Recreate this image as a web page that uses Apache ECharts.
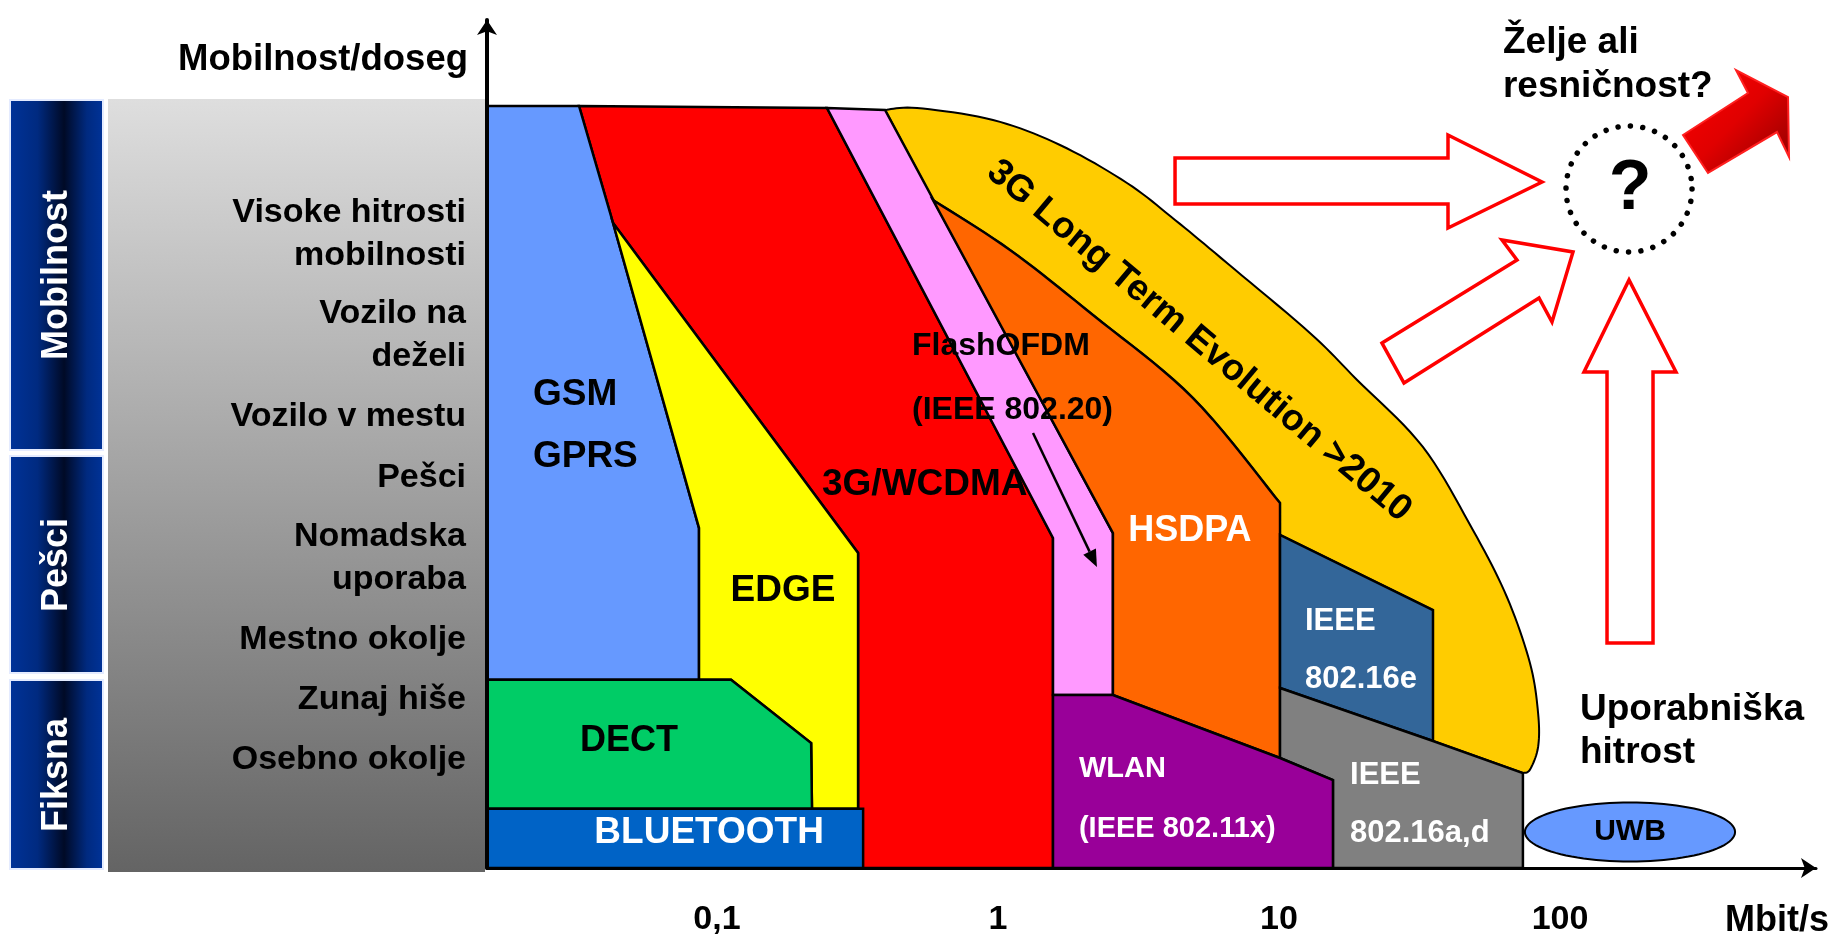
<!DOCTYPE html>
<html>
<head>
<meta charset="utf-8">
<script src="https://cdn.jsdelivr.net/npm/echarts@6/dist/echarts.min.js"></script>
<style>html,body{margin:0;padding:0;background:#fff}#c{width:1833px;height:938px}</style>
</head>
<body>
<div id="c"></div>
<script>
// x: log10 of user data rate (Mbit/s); y: mobility / range index (0 = fixed ... 100 = top of axis)
const xTickValues = [-1, 0, 1, 2];
const xTickLabels = ['0,1', '1', '10', '100'];
const yLevelValues = [74.71, 62.79, 53.18, 45.99, 36.56, 26.89, 19.81, 12.74];
const yLevelLabels = ['Visoke hitrosti\nmobilnosti', 'Vozilo na\ndeželi', 'Vozilo v mestu', 'Pešci',
  'Nomadska\nuporaba', 'Mestno okolje', 'Zunaj hiše', 'Osebno okolje'];
const mobilityGroups = ['Mobilnost', 'Pešci', 'Fiksna'];

// technology regions: [log10 Mbit/s, mobility index]
const gsm = [[-1.818, 89.86], [-1.491, 89.86], [-1.370, 76.06], [-1.064, 40.09], [-1.064, 22.2], [-1.818, 22.2]];
const edge = [[-1.370, 76.06], [-0.498, 37.15], [-0.498, 7.0], [-0.662, 7.0], [-0.665, 14.74], [-0.950, 22.2], [-1.064, 22.2], [-1.064, 40.09]];
const dect = [[-1.818, 22.2], [-0.950, 22.2], [-0.665, 14.74], [-0.662, 7.0], [-1.818, 7.0]];
const bluetooth = [[-1.818, 7.0], [-0.480, 7.0], [-0.480, 0], [-1.818, 0]];
const wcdma = [[-1.491, 89.86], [-0.6085, 89.62], [0.1957, 38.92], [0.1957, 0], [-0.498, 0], [-0.498, 37.15], [-1.370, 76.06]];
const flashOfdm = [[-0.6085, 89.62], [-0.402, 89.39], [0.409, 39.50], [0.409, 20.40], [0.1957, 20.40], [0.1957, 38.92]];
const hsdpaTop = [[-0.2313, 78.77], [0.0427, 72.88], [0.338, 65.21], [0.694, 55.42], [1.0036, 43.04]];
const hsdpaRest = [[1.0036, 12.97], [0.409, 20.40], [0.409, 39.50]];
const wlan = [[0.1957, 20.40], [0.409, 20.40], [1.0036, 12.97], [1.192, 10.38], [1.192, 0], [0.1957, 0]];
const ieee80216e = [[1.0036, 39.27], [1.548, 30.42], [1.548, 14.98], [1.0036, 21.23]];
const ieee80216ad = [[1.0036, 21.23], [1.548, 14.98], [1.868, 11.20], [1.868, 0], [1.192, 0], [1.192, 10.38], [1.0036, 12.97]];
const lteOuter = [[-0.402, 89.39], [-0.288, 89.62], [-0.0178, 88.21], [0.2206, 85.26], [0.459, 80.78], [0.630, 76.42],
  [0.815, 71.34], [1.110, 63.09], [1.278, 57.55], [1.512, 49.65], [1.690, 39.86], [1.811, 31.96], [1.893, 24.17],
  [1.922, 18.28], [1.922, 14.27], [1.893, 11.6], [1.868, 11.20]];
const lteInner = [[1.548, 14.98], [1.548, 30.42], [1.0036, 39.27]];
const uwb = [2.249, 4.245, 0.374, 3.48]; // centre x, centre y, half-width (decades), half-height

// annotation arrows
const arrowRight = [[0.630, 83.73], [1.6014, 83.73], [1.6014, 86.44], [1.936, 80.90], [1.6014, 75.47], [1.6014, 78.30], [0.630, 78.30]];
const arrowDiagonal = [[1.3665, 61.91], [1.847, 71.70], [1.7936, 74.06], [2.0463, 72.64], [1.9715, 64.39], [1.9253, 67.22], [1.4448, 57.19]];
const arrowUp = [[2.1673, 26.53], [2.1673, 58.49], [2.0854, 58.49], [2.2456, 69.34], [2.4128, 58.49], [2.331, 58.49], [2.331, 26.53]];
const arrowOut = [[2.4377, 86.44], [2.669, 91.39], [2.6263, 94.10], [2.8114, 90.92], [2.815, 83.84], [2.7722, 86.79], [2.5267, 81.96]];
const unknownCircle = [2.2456, 80.07, 7.43];
const flashArrow = [[0.1246, 51.30], [0.352, 35.50]];

const FONT = '"Liberation Sans", Arial, Helvetica, sans-serif';

// each zone: list of outline parts; parts flagged "curve" are drawn as smooth curves through their points
const zones = [
  { name: '3G Long Term Evolution', color: '#ffcc00', lw: 2,
    parts: [{ pts: lteOuter, curve: true }, { pts: lteInner }, { pts: hsdpaTop.slice().reverse(), curve: true }] },
  { name: '3G/WCDMA', parts: [{ pts: wcdma }], color: '#ff0000' },
  { name: 'FlashOFDM', parts: [{ pts: flashOfdm }], color: '#ff99ff' },
  { name: 'HSDPA', parts: [{ pts: hsdpaTop, curve: true }, { pts: hsdpaRest }], color: '#ff6600' },
  { name: 'IEEE 802.16e', parts: [{ pts: ieee80216e }], color: '#336699' },
  { name: 'IEEE 802.16a,d', parts: [{ pts: ieee80216ad }], color: '#808080' },
  { name: 'WLAN', parts: [{ pts: wlan }], color: '#990099' },
  { name: 'GSM', parts: [{ pts: gsm }], color: '#6699ff' },
  { name: 'EDGE', parts: [{ pts: edge }], color: '#ffff00' },
  { name: 'DECT', parts: [{ pts: dect }], color: '#00cc66' },
  { name: 'BLUETOOTH', parts: [{ pts: bluetooth }], color: '#0063c6' }
];

const textItems = [
  { text: 'GSM', at: [-1.655, 55.78], size: 37, align: 'left' },
  { text: 'GPRS', at: [-1.655, 48.47], size: 37, align: 'left' },
  { text: 'EDGE', at: [-0.765, 32.72], size: 37 },
  { text: 'DECT', at: [-1.313, 14.92], size: 36 },
  { text: 'BLUETOOTH', at: [-1.028, 4.13], size: 37, color: '#fff' },
  { text: '3G/WCDMA', at: [-0.6263, 45.17], size: 37, align: 'left' },
  { text: 'FlashOFDM', at: [-0.306, 61.5], size: 32, align: 'left' },
  { text: '(IEEE 802.20)', at: [-0.306, 54.0], size: 32, align: 'left' },
  { text: 'HSDPA', at: [0.683, 39.74], size: 36, color: '#fff' },
  { text: 'IEEE', at: [1.0925, 29.13], size: 31, color: '#fff', align: 'left' },
  { text: '802.16e', at: [1.0925, 22.29], size: 31, color: '#fff', align: 'left' },
  { text: 'IEEE', at: [1.2527, 10.97], size: 31, color: '#fff', align: 'left' },
  { text: '802.16a,d', at: [1.2527, 4.13], size: 31, color: '#fff', align: 'left' },
  { text: 'WLAN', at: [0.288, 11.67], size: 29, color: '#fff', align: 'left' },
  { text: '(IEEE 802.11x)', at: [0.288, 4.60], size: 29, color: '#fff', align: 'left' },
  { text: 'UWB', at: [2.249, 4.245], size: 30 },
  { text: '3G Long Term Evolution >2010', at: [0.7153, 62.15], size: 37, rotate: -40 },
  { text: 'Želje ali', at: [1.797, 97.29], size: 37, align: 'left' },
  { text: 'resničnost?', at: [1.797, 92.10], size: 37, align: 'left' },
  { text: 'Uporabniška', at: [2.071, 18.63], size: 37, align: 'left' },
  { text: 'hitrost', at: [2.071, 13.56], size: 37, align: 'left' },
  { text: '?', at: [2.2492, 79.95], size: 70 }
];

const blueGrad = {
  type: 'linear', x: 0, y: 0, x2: 1, y2: 0,
  colorStops: [
    { offset: 0, color: '#003399' }, { offset: 0.3, color: '#002a80' },
    { offset: 0.58, color: '#000a26' }, { offset: 0.82, color: '#002a80' }, { offset: 1, color: '#003399' }
  ]
};
const groupBoxes = [[100, 350, 275], [456, 217, 565], [680, 189, 775]];

const graphicEls = [
  { type: 'rect', z: 1, shape: { x: 108, y: 99, width: 377, height: 773 },
    style: { fill: { type: 'linear', x: 0, y: 0, x2: 0, y2: 1, colorStops: [{ offset: 0, color: '#dedede' }, { offset: 1, color: '#646464' }] } } }
];
mobilityGroups.forEach((g, i) => {
  const b = groupBoxes[i];
  graphicEls.push({ type: 'rect', z: 1, shape: { x: 10, y: b[0], width: 93, height: b[1] },
    style: { fill: blueGrad, stroke: '#e4ebff', lineWidth: 2 } });
  graphicEls.push({ type: 'text', z: 2, x: 57, y: b[2], rotation: Math.PI / 2,
    style: { text: g, fill: '#fff', fontSize: 36, fontWeight: 'bold', fontFamily: FONT, align: 'center', verticalAlign: 'middle' } });
});

function toPx(api, pts) { return pts.map(p => api.coord(p)); }
// Catmull-Rom smoothing of an outline (pixel space) through the given points
function smoothPx(px, seg) {
  const out = [];
  for (let i = 0; i < px.length - 1; i++) {
    const p0 = px[i - 1] || px[i], p1 = px[i], p2 = px[i + 1], p3 = px[i + 2] || px[i + 1];
    for (let s = 0; s < seg; s++) {
      const t = s / seg, t2 = t * t, t3 = t2 * t;
      out.push([0, 1].map(k => 0.5 * ((2 * p1[k]) + (-p0[k] + p2[k]) * t +
        (2 * p0[k] - 5 * p1[k] + 4 * p2[k] - p3[k]) * t2 + (-p0[k] + 3 * p1[k] - 3 * p2[k] + p3[k]) * t3)));
    }
  }
  out.push(px[px.length - 1]);
  return out;
}

const chart = echarts.init(document.getElementById('c'), null, { renderer: 'canvas' });
chart.setOption({
  animation: false,
  backgroundColor: '#fff',
  grid: { left: 487, right: 17, top: 20, bottom: 70, containLabel: false, outerBoundsMode: 'none' },
  graphic: graphicEls,
  xAxis: {
    type: 'value', min: -1.8185, max: 2.911, z: 10,
    name: 'Mbit/s', nameLocation: 'end', nameGap: -91,
    nameTextStyle: { align: 'left', verticalAlign: 'top', padding: [35, 0, 0, 0], fontSize: 36, fontWeight: 'bold', color: '#000', fontFamily: FONT },
    axisLine: { show: true, onZero: false, symbol: ['none', 'arrow'], symbolSize: [15, 15], lineStyle: { color: '#000', width: 3 } },
    axisTick: { show: false }, splitLine: { show: false },
    axisLabel: {
      customValues: xTickValues, margin: 35, fontSize: 34, fontWeight: 'bold', color: '#000', fontFamily: FONT,
      formatter: v => xTickLabels[xTickValues.indexOf(v)]
    }
  },
  yAxis: {
    type: 'value', min: 0, max: 100, z: 10,
    name: 'Mobilnost/doseg', nameLocation: 'end', nameGap: -40,
    nameTextStyle: { align: 'right', verticalAlign: 'middle', padding: [0, 19, 0, 0], fontSize: 36.5, fontWeight: 'bold', color: '#000', fontFamily: FONT },
    axisLine: { show: true, onZero: false, symbol: ['none', 'arrow'], symbolSize: [15, 15], lineStyle: { color: '#000', width: 4 } },
    axisTick: { show: false }, splitLine: { show: false },
    axisLabel: {
      customValues: yLevelValues, margin: 21, fontSize: 34, lineHeight: 43, fontWeight: 'bold', color: '#000', fontFamily: FONT,
      align: 'right',
      formatter: v => yLevelLabels[yLevelValues.indexOf(v)]
    }
  },
  series: [
    {
      type: 'custom', name: 'zones', coordinateSystem: 'cartesian2d', silent: true, z: 2,
      data: zones.map(zn => zn.parts[0].pts[0]),
      renderItem: (params, api) => {
        const zn = zones[params.dataIndex];
        let points = [];
        zn.parts.forEach(part => {
          const px = toPx(api, part.pts);
          points = points.concat(part.curve ? smoothPx(px, 10) : px);
        });
        return { type: 'polygon', shape: { points: points },
          style: { fill: zn.color, stroke: '#000', lineWidth: zn.lw || 2.5, lineJoin: 'miter' } };
      }
    },
    {
      type: 'custom', name: 'UWB', coordinateSystem: 'cartesian2d', silent: true, z: 2,
      data: [[uwb[0], uwb[1]]],
      renderItem: (params, api) => {
        const c = api.coord([uwb[0], uwb[1]]);
        const rx = api.size([uwb[2], 0])[0], ry = api.size([0, uwb[3]])[1];
        const pts = [];
        for (let k = 0; k < 96; k++) { const a = k / 96 * Math.PI * 2; pts.push([c[0] + rx * Math.cos(a), c[1] + ry * Math.sin(a)]); }
        return { type: 'polygon', shape: { points: pts }, style: { fill: '#6699ff', stroke: '#000', lineWidth: 2 } };
      }
    },
    {
      type: 'custom', name: 'annotations', coordinateSystem: 'cartesian2d', silent: true, z: 3,
      data: [[0, 0]],
      renderItem: (params, api) => {
        const children = [];
        [arrowRight, arrowDiagonal, arrowUp].forEach(a => children.push({ type: 'polygon', shape: { points: toPx(api, a) },
          style: { fill: '#fff', stroke: '#ff0000', lineWidth: 3.5, lineJoin: 'miter' } }));
        children.push({ type: 'polygon', shape: { points: toPx(api, arrowOut) },
          style: { fill: { type: 'linear', x: 0, y: 0, x2: 1, y2: 1, colorStops: [{ offset: 0, color: '#ff0000' }, { offset: 0.5, color: '#e00000' }, { offset: 1, color: '#8a0000' }] },
            stroke: '#ff2020', lineWidth: 2 } });
        const cc = api.coord([unknownCircle[0], unknownCircle[1]]);
        const r = api.size([0, unknownCircle[2]])[1];
        children.push({ type: 'circle', shape: { cx: cc[0], cy: cc[1], r: r },
          style: { fill: 'none', stroke: '#000', lineWidth: 5.5, lineDash: [0.01, 12.4], lineCap: 'round' } });
        const p0 = api.coord(flashArrow[0]), p1 = api.coord(flashArrow[1]);
        const dx = p1[0] - p0[0], dy = p1[1] - p0[1], L = Math.hypot(dx, dy);
        const ux = dx / L, uy = dy / L, hl = 17, hw = 7;
        const bx = p1[0] - ux * hl, by = p1[1] - uy * hl;
        children.push({ type: 'line', shape: { x1: p0[0], y1: p0[1], x2: bx, y2: by }, style: { stroke: '#000', lineWidth: 2.5 } });
        children.push({ type: 'polygon', shape: { points: [p1, [bx - uy * hw, by + ux * hw], [bx + uy * hw, by - ux * hw]] }, style: { fill: '#000' } });
        return { type: 'group', children: children };
      }
    },
    {
      type: 'custom', name: 'labels', coordinateSystem: 'cartesian2d', silent: true, z: 4,
      data: textItems.map(t => t.at),
      renderItem: (params, api) => {
        const t = textItems[params.dataIndex];
        const p = api.coord(t.at);
        return { type: 'text', x: p[0], y: p[1], rotation: (t.rotate || 0) * Math.PI / 180,
          style: { text: t.text, fill: t.color || '#000', fontSize: t.size, fontWeight: 'bold', fontFamily: FONT,
            align: t.align || 'center', verticalAlign: 'middle' } };
      }
    }
  ]
});
</script>
</body>
</html>
